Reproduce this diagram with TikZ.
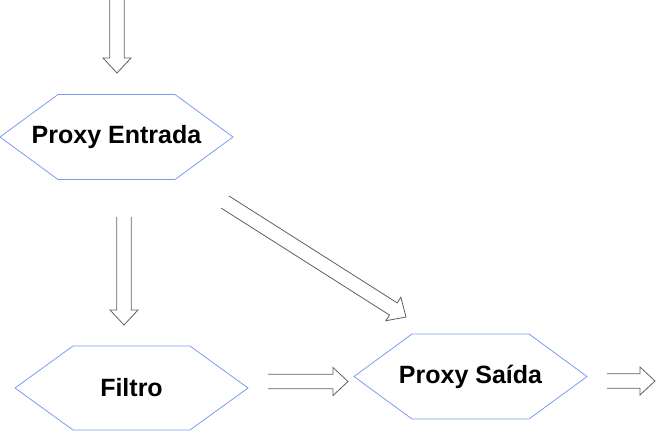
\documentclass[tikz,border=0pt]{standalone}
\usepackage{fontspec}
\setmainfont{Liberation Sans}
\usetikzlibrary{calc}
\tikzset{
  lbl/.style={font=\fontsize{25}{29}\selectfont\bfseries, inner sep=0pt},
  hexline/.style={draw={rgb,255:red,125;green,155;blue,245}, line width=0.8pt, line join=miter},
  blk/.style={draw={rgb,255:red,95;green,95;blue,95}, line width=0.8pt, line join=miter},
}
\newcommand{\hexat}[4]{%
  \draw[hexline] ($(#1)+(-#2,0)$) -- ($(#1)+(-#2+#4,-#3)$) -- ($(#1)+(#2-#4,-#3)$) -- ($(#1)+(#2,0)$)
    -- ($(#1)+(#2-#4,#3)$) -- ($(#1)+(-#2+#4,#3)$) -- cycle;}
\newcommand{\blockarrow}[2]{%
  \path ($(#2)!15pt!(#1)$) coordinate (tmpH);
  \draw[blk] ($(#1)!7.2pt!90:(#2)$) -- ($(tmpH)!7.2pt!-90:(#1)$) -- ($(tmpH)!14pt!-90:(#1)$)
    -- (#2) -- ($(tmpH)!14pt!90:(#1)$) -- ($(tmpH)!7.2pt!90:(#1)$) -- ($(#1)!7.2pt!-90:(#2)$);}
\begin{document}
\begin{tikzpicture}[x=1pt,y=-1pt]
\useasboundingbox (0,0) rectangle (656,431);
% nodes
\node[lbl] (pe) at (116.5,137) {Proxy Entrada};
\node[lbl] (fi) at (131.5,388) {Filtro};
\node[lbl] (ps) at (470.5,376.5) {Proxy Saída};
\hexat{pe}{116.5}{42.5}{58}
\hexat{fi}{116.5}{42}{58}
\hexat{ps}{116.5}{42.5}{58}
% connector endpoints
\coordinate (a0s) at (117,0);
\coordinate (a0t) at (117,73);
\coordinate (a1s) at (124,217);
\coordinate (a1t) at (124,325);
\coordinate (a2s) at (225,202);
\coordinate (a2t) at (406,317);
\coordinate (a3s) at (268,381.5);
\coordinate (a3t) at (348,381.5);
\coordinate (a4s) at (607,381);
\coordinate (a4t) at (655,381);
\blockarrow{a0s}{a0t}
\blockarrow{a1s}{a1t}
\blockarrow{a2s}{a2t}
\blockarrow{a3s}{a3t}
\blockarrow{a4s}{a4t}
\end{tikzpicture}
\end{document}
